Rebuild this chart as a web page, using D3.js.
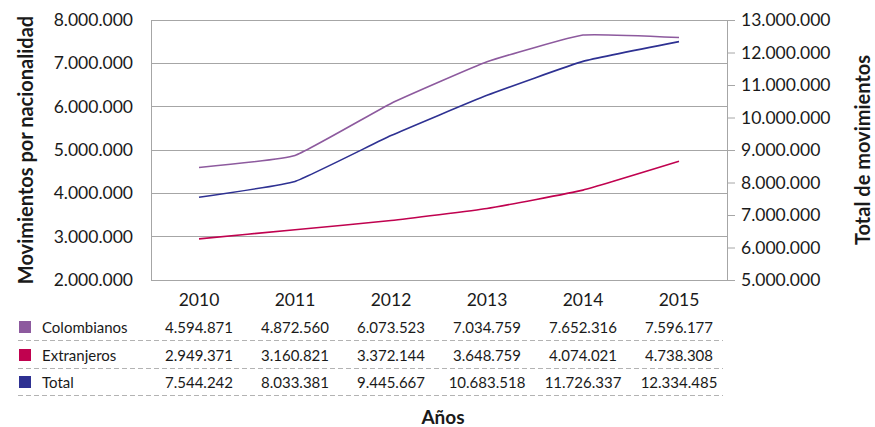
<!DOCTYPE html>
<html><head><meta charset="utf-8">
<script src="https://cdn.jsdelivr.net/npm/d3@7/dist/d3.min.js"></script>
<style>body{margin:0;background:#fff}svg{display:block}text{font-family:"Lato","Noto Sans",sans-serif;fill:#1a1a1a}</style>
</head><body><svg id="c" width="875" height="427"></svg>
<script>
const years = ["2010","2011","2012","2013","2014","2015"];
const colombianos = [4594871,4872560,6073523,7034759,7652316,7596177];
const extranjeros = [2949371,3160821,3372144,3648759,4074021,4738308];
const total = [7544242,8033381,9445667,10683518,11726337,12334485];
const seriesNames = ["Colombianos","Extranjeros","Total"];
const seriesColors = ["#8d5a9e","#c0024f","#2e3192"];
const leftTicks = [2000000,3000000,4000000,5000000,6000000,7000000,8000000];
const rightTicks = [5000000,6000000,7000000,8000000,9000000,10000000,11000000,12000000,13000000];

const svg = d3.select("#c");
const L=151,R=727,T=20,B=280;
const fmt = v => d3.format(",")(v).replace(/,/g,".");
const x = d3.scaleBand().domain(years).range([L,R]);
const yL = d3.scaleLinear().domain([2000000,8000000]).range([B,T]);
const yR = d3.scaleLinear().domain([5000000,13000000]).range([B,T]);

// gridlines
svg.append("g").selectAll("line").data(leftTicks).join("line")
 .attr("x1",L).attr("x2",R).attr("y1",d=>yL(d)).attr("y2",d=>yL(d))
 .attr("stroke","#a6a6a6").attr("stroke-width",1).attr("shape-rendering","crispEdges");
svg.append("line").attr("x1",L).attr("x2",L).attr("y1",T).attr("y2",B).attr("stroke","#a6a6a6").attr("shape-rendering","crispEdges");
svg.append("line").attr("x1",R).attr("x2",R).attr("y1",T).attr("y2",B).attr("stroke","#a6a6a6").attr("shape-rendering","crispEdges");

// left labels
svg.append("g").selectAll("text").data(leftTicks).join("text")
 .attr("x",133).attr("y",d=>yL(d)+6).attr("text-anchor","end").attr("font-size",17.5).text(fmt);
// right axis ticks
const gR = svg.append("g").attr("transform",`translate(${R},0)`)
 .call(d3.axisRight(yR).tickValues(rightTicks).tickSize(8).tickPadding(6).tickFormat(fmt));
gR.select(".domain").remove();
gR.selectAll("line").attr("stroke","#a6a6a6");
gR.selectAll("text").attr("font-size",17.5).attr("fill","#1a1a1a").attr("font-family","Lato,'Noto Sans',sans-serif");

// year labels
svg.append("g").selectAll("text").data(years).join("text")
 .attr("x",d=>x(d)+x.bandwidth()/2).attr("y",306).attr("text-anchor","middle").attr("font-size",17.5).text(d=>d);

// lines
const data = [
 {v:colombianos,y:yL,c:seriesColors[0]},
 {v:extranjeros,y:yL,c:seriesColors[1]},
 {v:total,y:yR,c:seriesColors[2]}];
data.forEach(s=>{
 const line = d3.line().x((d,i)=>x(years[i])+x.bandwidth()/2).y(d=>s.y(d)).curve(d3.curveCardinal.tension(0.65));
 svg.append("path").attr("d",line(s.v)).attr("fill","none").attr("stroke",s.c).attr("stroke-width",1.6);
});

// table
const rows=[colombianos,extranjeros,total];
const rowY=[333,361,388];
rows.forEach((vals,r)=>{
 svg.append("rect").attr("x",19).attr("y",rowY[r]-12).attr("width",12).attr("height",12).attr("fill",seriesColors[r]);
 svg.append("text").attr("x",42).attr("y",rowY[r]).attr("font-size",15).text(seriesNames[r]);
 svg.append("g").selectAll("text").data(vals).join("text")
  .attr("x",(d,i)=>x(years[i])+x.bandwidth()/2).attr("y",rowY[r]).attr("text-anchor","middle").attr("font-size",15).text(fmt);
 svg.append("line").attr("x1",18).attr("x2",723).attr("y1",rowY[r]+7.5).attr("y2",rowY[r]+7.5)
  .attr("stroke","#b3b3b3").attr("stroke-width",1).attr("stroke-dasharray","5,3");
});

// titles
svg.append("text").attr("transform","translate(33,150) rotate(-90)").attr("text-anchor","middle")
 .attr("font-size",20).attr("font-weight","bold").text("Movimientos por nacionalidad");
svg.append("text").attr("transform","translate(870,150) rotate(-90)").attr("text-anchor","middle")
 .attr("font-size",20).attr("font-weight","bold").text("Total de movimientos");
svg.append("text").attr("x",443).attr("y",424).attr("text-anchor","middle")
 .attr("font-size",19).attr("font-weight","bold").text("Años");
</script></body></html>
